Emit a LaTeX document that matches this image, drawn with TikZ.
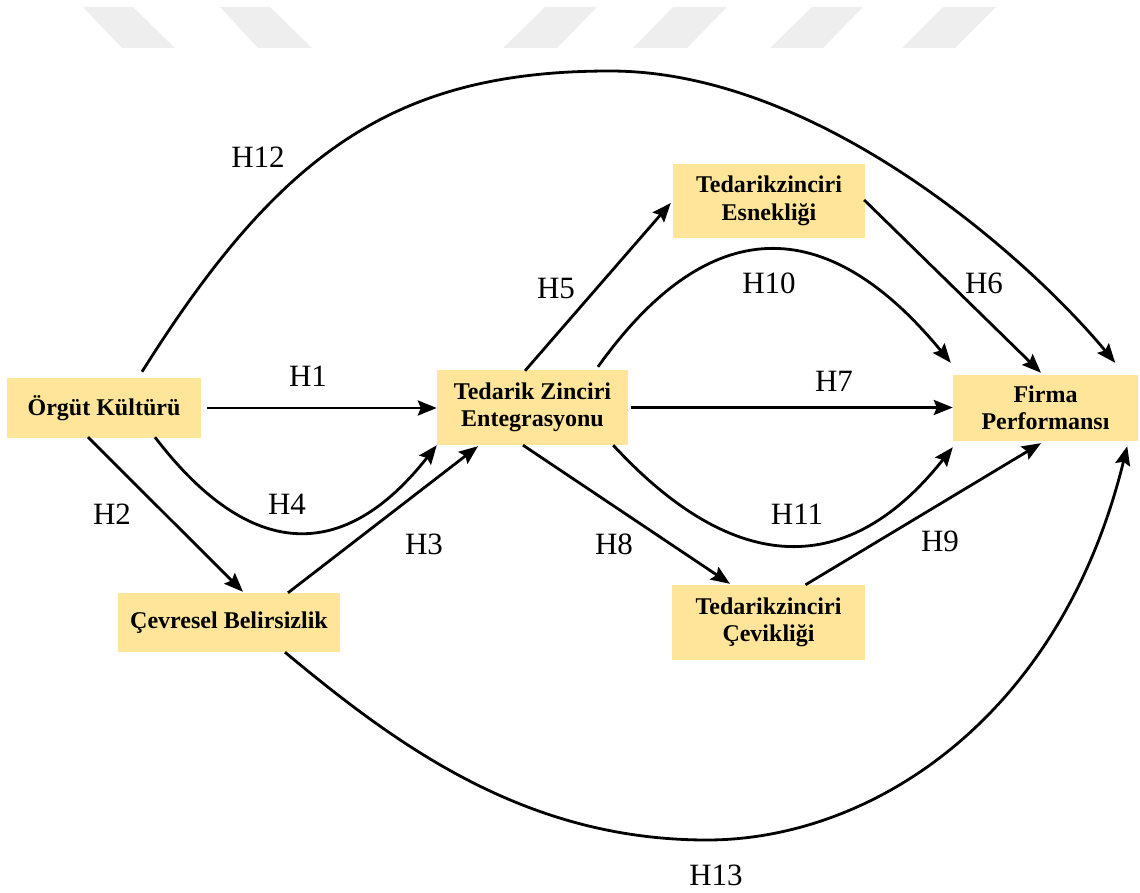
\documentclass[tikz,border=0pt]{standalone}
\usepackage{fontspec}
\setmainfont{Liberation Serif}
\usetikzlibrary{arrows.meta}
\definecolor{boxfill}{HTML}{FEE599}
\definecolor{wmark}{HTML}{EEEEEE}

\begin{document}
\begin{tikzpicture}[x=1pt,y=-1pt,
  factor/.style={fill=boxfill, inner sep=0pt, align=center,
    font=\bfseries\fontsize{24}{27.5}\selectfont},
  link/.style={line width=2.8pt, -{Stealth[length=19pt,width=15pt,inset=3pt]}},
  hyp/.style={font=\fontsize{31}{31}\selectfont, inner sep=0pt}]
\useasboundingbox (0,0) rectangle (1140,893);

% faint stripes along the top edge
\fill[wmark] (83,7) -- (133,7) -- (175,48) -- (122,48) -- cycle;
\fill[wmark] (220,7) -- (270,7) -- (312,48) -- (258,48) -- cycle;
\fill[wmark] (545,7) -- (597,7) -- (557,48) -- (503,48) -- cycle;
\fill[wmark] (673,7) -- (727,7) -- (687,48) -- (633,48) -- cycle;
\fill[wmark] (812,7) -- (863,7) -- (823,48) -- (770,48) -- cycle;
\fill[wmark] (943,7) -- (996,7) -- (955,48) -- (902,48) -- cycle;

% constructs
\node[factor, minimum width=194pt, minimum height=60pt] (ok) at (104,408) {Örgüt Kültürü};
\node[factor, minimum width=222pt, minimum height=59pt] (cb) at (229,622.5) {Çevresel Belirsizlik};
\node[factor, minimum width=191pt, minimum height=75pt] (tze) at (532.5,407.5) {Tedarik Zinciri\\Entegrasyonu};
\node[factor, minimum width=192pt, minimum height=74pt] (esn) at (769,201) {Tedarikzinciri\\Esnekliği};
\node[factor, minimum width=185pt, minimum height=66pt] (fp) at (1045.5,408) {Firma\\Performansı};
\node[factor, minimum width=193pt, minimum height=75pt] (cev) at (768.5,622.5) {Tedarikzinciri\\Çevikliği};

% hypothesised paths
\draw[link] ([xshift=6pt]ok.east) -- (ok.east -| tze.west);
\draw[link] ([xshift=-16pt,yshift=1pt]ok.south) -- ([xshift=14pt,yshift=1pt]cb.north);
\draw[link] ([xshift=51pt,yshift=1pt]ok.south) .. controls (249.7,561) and (343.7,563.7) .. (tze.south west);
\draw[link] ([xshift=59pt]cb.north) -- ([xshift=-54.5pt,yshift=-1pt]tze.south);
\draw[link] ([xshift=-7.5pt,yshift=-1pt]tze.north) -- ([xshift=-2pt,yshift=-2pt]esn.west);
\draw[link] ([xshift=65.5pt,yshift=3pt]tze.north) .. controls (708.3,212.3) and (826,211) .. ([xshift=-2pt,yshift=12pt]fp.north west);
\draw[link] ([xshift=3pt]tze.east) -- (tze.east -| fp.west);
\draw[link] ([xshift=-15pt]tze.south east) .. controls (735.7,577.7) and (849,578.3) .. ([yshift=-6pt]fp.south west);
\draw[link] ([xshift=-9.5pt]tze.south) -- ([xshift=-38.5pt,yshift=1pt]cev.north);
\draw[link] ([xshift=-1pt,yshift=1pt]esn.east) -- ([xshift=-4.5pt,yshift=2pt]fp.north);
\draw[link] ([xshift=37pt]cev.north) -- ([xshift=-4.5pt,yshift=-2pt]fp.south);
\draw[link] ([xshift=38pt,yshift=6pt]ok.north)
  .. controls (280,152) and (395,71) .. (610,71)
  .. controls (820,71) and (1030,260) .. ([xshift=-23pt,yshift=12pt]fp.north east);
\draw[link] ([xshift=56pt]cb.south)
  .. controls (400,748) and (527,840) .. (707,840)
  .. controls (870,840) and (1060,720) .. ([xshift=-11pt,yshift=-5pt]fp.south east);

% path labels
\node[hyp] (l12) at (258,157) {H12};
\node[hyp] (l1) at (308,376) {H1};
\node[hyp] (l2) at (112,514) {H2};
\node[hyp] (l4) at (287,504) {H4};
\node[hyp] (l3) at (424,544) {H3};
\node[hyp] (l5) at (556,289) {H5};
\node[hyp] (l10) at (769,283) {H10};
\node[hyp] (l7) at (834,381) {H7};
\node[hyp] (l11) at (797,514) {H11};
\node[hyp] (l8) at (614,544) {H8};
\node[hyp] (l6) at (984,283) {H6};
\node[hyp] (l9) at (940,541) {H9};
\node[hyp] (l13) at (716,875) {H13};
\end{tikzpicture}
\end{document}
